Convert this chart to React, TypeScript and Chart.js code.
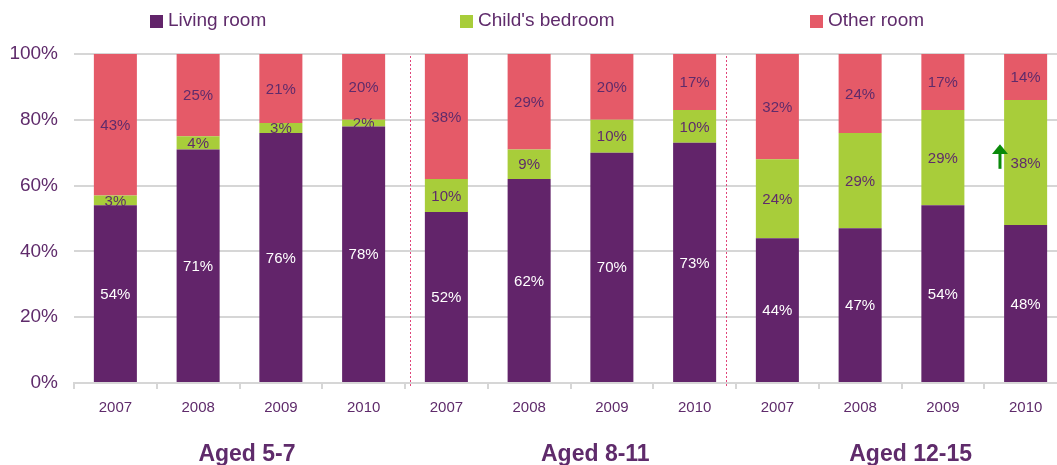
import React, { useEffect, useRef } from "react";
import { Chart, registerables } from "chart.js";

Chart.register(...registerables);

const categories = ["2007", "2008", "2009", "2010", "2007", "2008", "2009", "2010", "2007", "2008", "2009", "2010"];
const livingRoom = [54, 71, 76, 78, 52, 62, 70, 73, 44, 47, 54, 48];
const childsBedroom = [3, 4, 3, 2, 10, 9, 10, 10, 24, 29, 29, 38];
const otherRoom = [43, 25, 21, 20, 38, 29, 20, 17, 32, 24, 17, 14];
const seriesNames = ["Living room", "Child's bedroom", "Other room"];
const groupLabels = ["Aged 5-7", "Aged 8-11", "Aged 12-15"];

const PURPLE = "#62246A";
const GREEN = "#A8CD3A";
const RED = "#E55A68";
const TEXT = "#5F2B6B";
const GRID = "#D6D6D6";
const FONT = '"Liberation Sans", Arial, sans-serif';

// layout constants (annotation positions on the category axis, in category-index units)
const groupLabelIdx = [1.59, 5.8, 9.61];
const dividerIdx = [3.56, 7.38];
const arrowIdx = 10.69;
const legendX = [150, 460, 810];

const overlay = {
  id: "overlay",
  beforeDatasetsDraw(chart: any) {
    const ctx = chart.ctx;
    const x = chart.scales.x;
    const area = chart.chartArea;
    ctx.save();
    ctx.strokeStyle = "#E0457A";
    ctx.lineWidth = 1;
    ctx.setLineDash([2, 2]);
    dividerIdx.forEach((d) => {
      const px = Math.round(x.getPixelForValue(d)) + 0.5;
      ctx.beginPath();
      ctx.moveTo(px, area.top + 2);
      ctx.lineTo(px, area.bottom + 3);
      ctx.stroke();
    });
    ctx.restore();
  },
  afterDatasetsDraw(chart: any) {
    const ctx = chart.ctx;
    ctx.save();
    ctx.font = `15px ${FONT}`;
    ctx.textAlign = "center";
    ctx.textBaseline = "middle";
    chart.data.datasets.forEach((ds: any, i: number) => {
      const meta = chart.getDatasetMeta(i);
      meta.data.forEach((bar: any, j: number) => {
        ctx.fillStyle = i === 0 ? "#FFFFFF" : TEXT;
        ctx.fillText(ds.data[j] + "%", bar.x, (bar.y + bar.base) / 2 + 1);
      });
    });
    ctx.restore();
  },
  afterDraw(chart: any) {
    const ctx = chart.ctx;
    const x = chart.scales.x;
    const y = chart.scales.y;
    ctx.save();
    // group labels
    ctx.font = `bold 23px ${FONT}`;
    ctx.fillStyle = TEXT;
    ctx.textAlign = "center";
    ctx.textBaseline = "middle";
    groupLabels.forEach((g, i) => {
      ctx.fillText(g, x.getPixelForValue(groupLabelIdx[i]), 455);
    });
    // legend
    const colors = [PURPLE, GREEN, RED];
    ctx.font = `19px ${FONT}`;
    ctx.textAlign = "left";
    seriesNames.forEach((n, i) => {
      ctx.fillStyle = colors[i];
      ctx.fillRect(legendX[i], 15, 13, 13);
      ctx.fillStyle = TEXT;
      ctx.fillText(n, legendX[i] + 18, 21);
    });
    // arrow
    const ax = x.getPixelForValue(arrowIdx);
    const tip = y.getPixelForValue(72.6);
    const headBase = y.getPixelForValue(69.6);
    const tail = y.getPixelForValue(65.1);
    ctx.fillStyle = "#0A8A0A";
    ctx.strokeStyle = "#0A8A0A";
    ctx.lineWidth = 3;
    ctx.beginPath();
    ctx.moveTo(ax, headBase);
    ctx.lineTo(ax, tail);
    ctx.stroke();
    ctx.beginPath();
    ctx.moveTo(ax, tip);
    ctx.lineTo(ax - 8, headBase);
    ctx.lineTo(ax + 8, headBase);
    ctx.closePath();
    ctx.fill();
    ctx.restore();
  },
};

export default function App() {
  const ref = useRef<HTMLCanvasElement>(null);
  useEffect(() => {
    if (!ref.current) return;
    const chart = new Chart(ref.current, {
      type: "bar",
      data: {
        labels: categories,
        datasets: [
          { label: seriesNames[0], data: livingRoom, backgroundColor: PURPLE },
          { label: seriesNames[1], data: childsBedroom, backgroundColor: GREEN },
          { label: seriesNames[2], data: otherRoom, backgroundColor: RED },
        ],
      },
      options: {
        responsive: false,
        animation: false,
        devicePixelRatio: 1,
        layout: { padding: { top: 54, left: 0, right: 3, bottom: 0 } },
        datasets: { bar: { categoryPercentage: 1, barPercentage: 0.52 } },
        plugins: { legend: { display: false }, tooltip: { enabled: false } },
        scales: {
          x: {
            stacked: true,
            grid: {
              display: true,
              drawOnChartArea: false,
              drawTicks: true,
              tickLength: 6,
              color: GRID,
              lineWidth: 2,
              offset: true,
            },
            border: { display: true, color: GRID, width: 2 },
            ticks: { color: TEXT, font: { family: FONT, size: 15 }, padding: 10, maxRotation: 0, autoSkip: false },
            afterFit: (s: any) => {
              s.height = 82;
            },
          },
          y: {
            stacked: true,
            min: 0,
            max: 100,
            grid: { color: GRID, lineWidth: 2, drawTicks: false },
            border: { display: false },
            ticks: {
              stepSize: 20,
              color: TEXT,
              font: { family: FONT, size: 19 },
              padding: 16,
              callback: (v: any) => v + "%",
            },
            afterFit: (s: any) => {
              s.width = 74;
            },
          },
        },
      },
      plugins: [overlay],
    });
    return () => chart.destroy();
  }, []);
  return (
    <div style={{ position: "fixed", left: 0, top: 0, width: 1057, height: 465, overflow: "hidden", background: "#fff" }}>
      <canvas ref={ref} width={1070} height={465} style={{ display: "block", width: 1070, height: 465 }} />
    </div>
  );
}
